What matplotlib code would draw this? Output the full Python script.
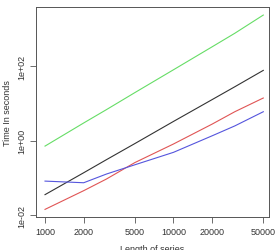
import matplotlib
matplotlib.use('Agg')
import matplotlib.pyplot as plt
import numpy as np

# series lengths and timings (seconds)
lengths = [1000, 2000, 3000, 5000, 10000, 20000, 30000, 50000]
t_green = [0.72, 3.0, 6.8, 19.5, 80, 330, 760, 2340]
t_black = [0.036, 0.139, 0.31, 0.84, 3.3, 12.7, 28, 77]
t_red = [0.0145, 0.046, 0.094, 0.26, 0.82, 2.8, 6.0, 14]
t_blue = [0.083, 0.075, 0.128, 0.227, 0.49, 1.36, 2.5, 6.0]

xticks = [1000, 2000, 5000, 10000, 20000, 50000]
yticks = [1e-2, 1e0, 1e2]
ytick_labels = ['1e-02', '1e+00', '1e+02']

plt.rcParams['font.family'] = ['Liberation Sans', 'DejaVu Sans']

fig = plt.figure(figsize=(2.75, 2.51), dpi=100)
ax = fig.add_axes([0.131, 0.131, 0.847, 0.837])

ax.plot(lengths, t_green, color='#66dd66', lw=0.8)
ax.plot(lengths, t_black, color='#333333', lw=0.8)
ax.plot(lengths, t_red, color='#e05555', lw=0.8)
ax.plot(lengths, t_blue, color='#5555dd', lw=0.8)

ax.set_xscale('log')
ax.set_yscale('log')
ax.set_xlim(10 ** 2.930, 10 ** 4.743)
ax.set_ylim(10 ** -2.046, 10 ** 3.584)

ax.xaxis.set_minor_locator(matplotlib.ticker.NullLocator())
ax.yaxis.set_minor_locator(matplotlib.ticker.NullLocator())
ax.set_xticks(xticks)
ax.set_xticklabels([str(v) for v in xticks], fontsize=6.5, color='#333333')
ax.set_yticks(yticks)
ax.set_yticklabels(ytick_labels, fontsize=6.5, rotation=90, va='center',
                   color='#333333')
ax.tick_params(direction='out', length=4, width=0.6, color='#555555', pad=3)

for s in ax.spines.values():
    s.set_color('#555555')
    s.set_linewidth(0.7)

ax.set_xlabel('Length of series', fontsize=6.5, color='#333333', labelpad=6)
ax.set_ylabel('Time In seconds', fontsize=6.5, color='#333333', labelpad=4)

fig.savefig('out.png', dpi=100)
